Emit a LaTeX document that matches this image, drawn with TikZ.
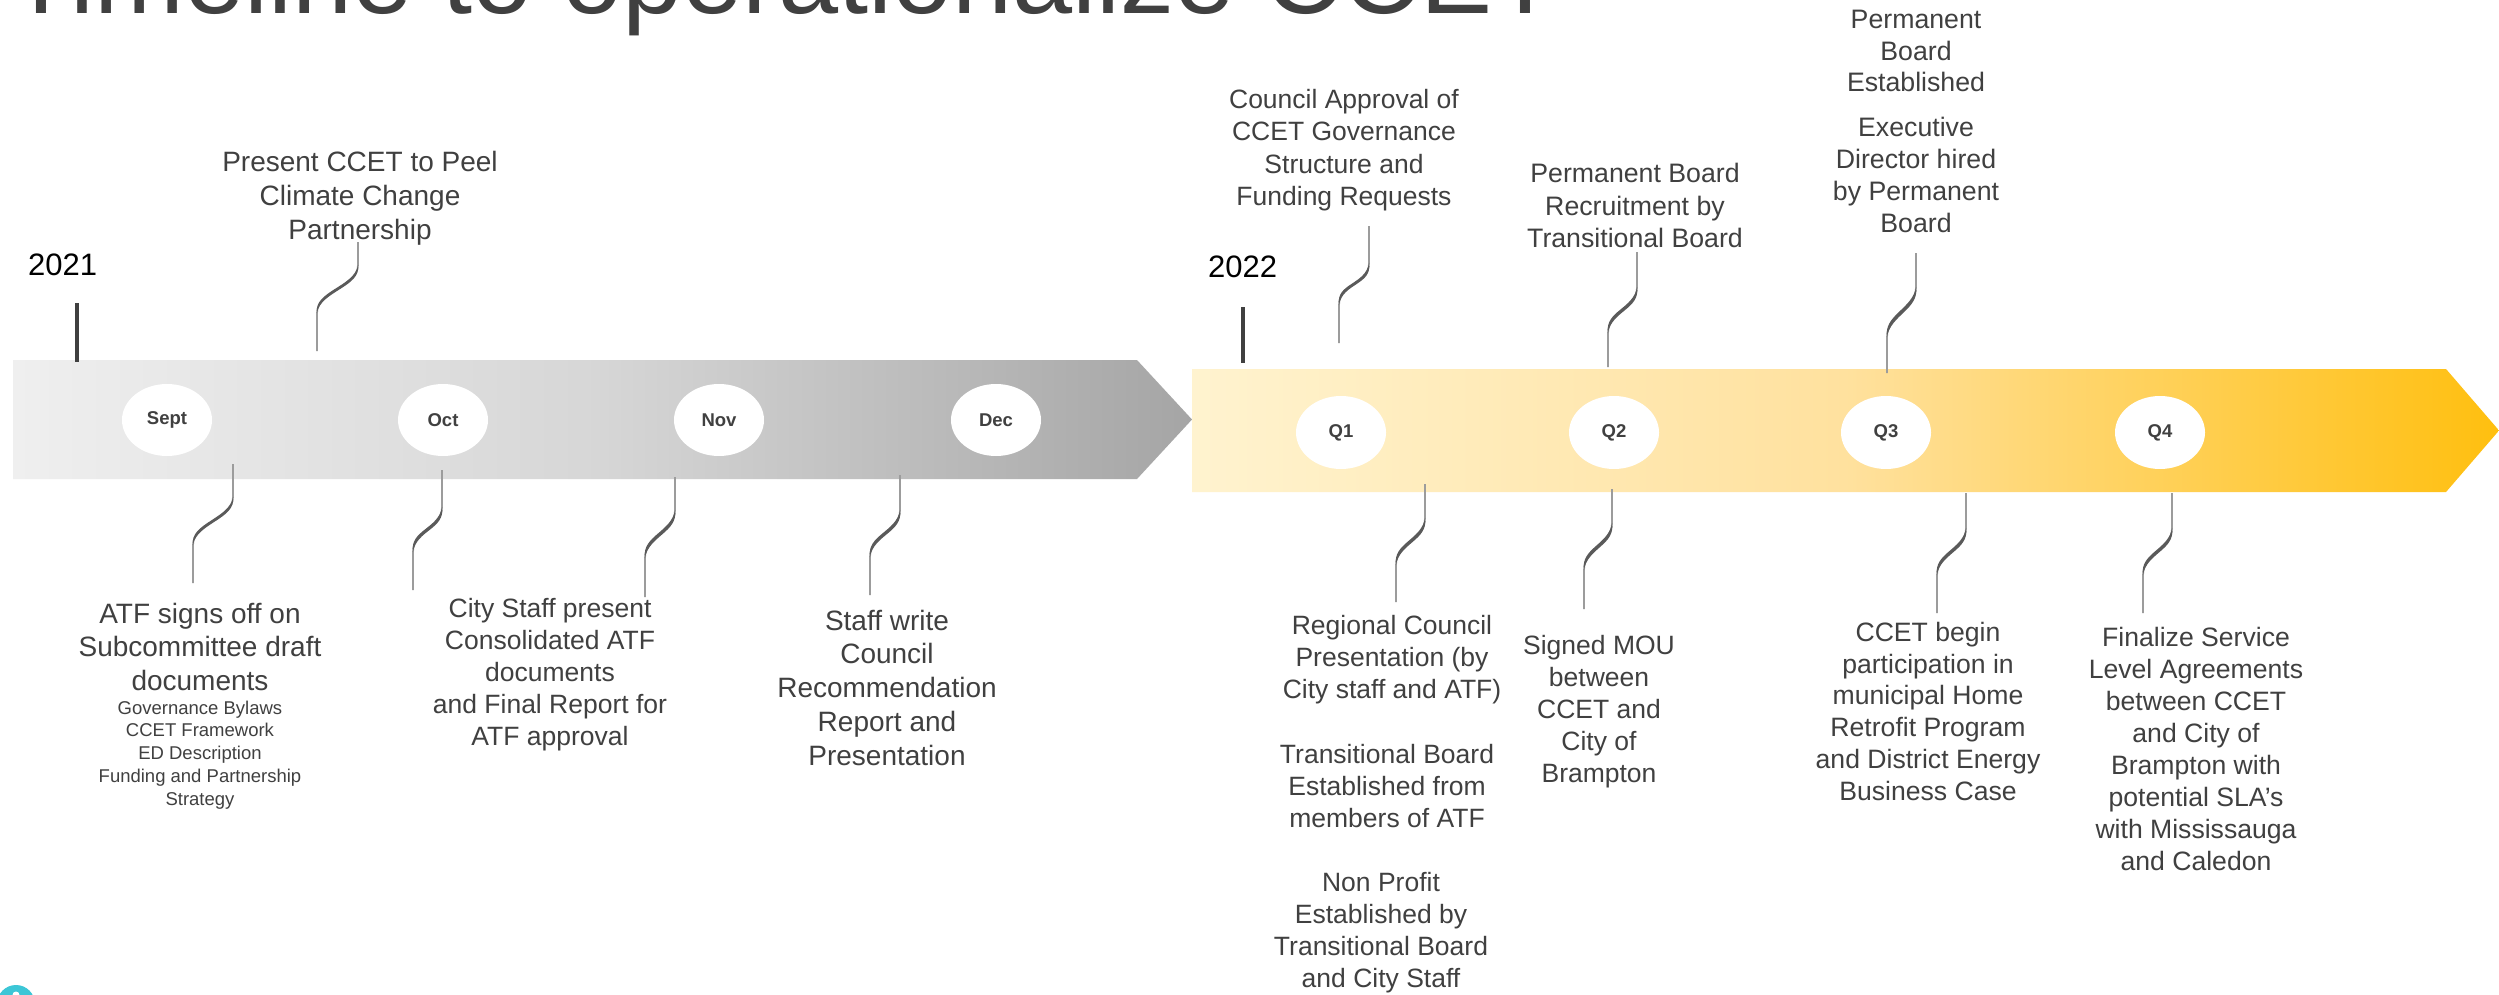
\documentclass[tikz,border=0pt]{standalone}
\usepackage{fontspec}
\setmainfont{Liberation Sans}
\usetikzlibrary{shapes.geometric}
\definecolor{txt}{HTML}{404040}
\definecolor{gA}{HTML}{EFEFEF}
\definecolor{gB}{HTML}{D6D6D6}
\definecolor{gC}{HTML}{A5A5A5}
\definecolor{yA}{HTML}{FFF3CF}
\definecolor{yB}{HTML}{FFE19E}
\definecolor{yC}{HTML}{FFBF0F}
\definecolor{cthin}{HTML}{9C9C9C}
\definecolor{cthick}{HTML}{5A5A5A}
\definecolor{cyanc}{HTML}{3CC6D6}
\newcommand\myfs[2]{\fontsize{#1}{#2}\selectfont}
\newcommand\myconn[7]{%
  \coordinate (#1u) at (#2,#3);
  \coordinate (#1s) at (#2,#4);
  \coordinate (#1e) at (#5,#6);
  \coordinate (#1l) at (#5,#7);
  \draw[connthin] (#1u) -- (#1s) .. controls +(0,22) and +(0,-22) .. (#1e) -- (#1l);
  \fill[connthick] (#1s) .. controls +(-3.5,22) and +(-3.5,-22) .. (#1e) .. controls +(3.5,-22) and +(3.5,22) .. (#1s);
}
\begin{document}
\begin{tikzpicture}[x=1pt,y=-1pt,
  txtnode/.style={align=center, inner sep=0pt, text=txt, anchor=base},
  month/.style={ellipse, fill=white, minimum width=90pt, minimum height=72pt, inner sep=0pt, text=txt, font=\bfseries\myfs{18.5}{20}},
  year/.style={anchor=base west, inner sep=0pt, text=black, font=\myfs{31}{34}},
  tick/.style={line width=4.5pt, draw=txt},
  connthin/.style={draw=cthin, line width=1.7pt},
  connthick/.style={fill=cthick}]
\clip (0,0) rectangle (2499,995);
\fill[white] (0,0) rectangle (2499,995);

% title
\node[anchor=base west, inner sep=0pt, text=txt, font=\myfs{108}{115}] (title) at (8,14) {Timeline to operationalize CCET};

% bars
\shade[left color=gA, right color=gC, middle color=gB] (13,360) -- (1137,360) -- (1192,419.5) -- (1137,479) -- (13,479) -- cycle;
\shade[left color=yA, right color=yC, middle color=yB] (1192,369) -- (2446,369) -- (2499,430.5) -- (2446,492) -- (1192,492) -- cycle;

% year labels and ticks
\node[year] (y21) at (28,275) {2021};
\coordinate (y21a) at (77,303);
\coordinate (y21b) at (77,362);
\draw[tick] (y21a) -- (y21b);
\node[year] (y22) at (1208,277) {2022};
\coordinate (y22a) at (1243,307);
\coordinate (y22b) at (1243,363);
\draw[tick] (y22a) -- (y22b);

% months / quarters
\node[month] (sept) at (167,420) {Sept};
\node[month] (oct) at (443,420) {Oct};
\node[month] (nov) at (719,420) {Nov};
\node[month] (dec) at (996,420) {Dec};
\node[month, minimum height=73pt] (q1) at (1341,432.5) {Q1};
\node[month, minimum height=73pt] (q2) at (1614,432.5) {Q2};
\node[month, minimum height=73pt] (q3) at (1886,432.5) {Q3};
\node[month, minimum height=73pt] (q4) at (2160,432.5) {Q4};

% texts (anchored at the baseline of their last line)
\node[txtnode, font=\myfs{28}{34}] (t1) at (360,240) {Present CCET to Peel\\Climate Change\\Partnership};
\node[txtnode, font=\myfs{28}{33.5}] (t2a) at (200,690) {ATF signs off on\\Subcommittee draft\\documents};
\node[txtnode, font=\myfs{18.5}{22.7}] (t2b) at (200,805) {Governance Bylaws\\CCET Framework\\ED Description\\Funding and Partnership\\Strategy};
\node[txtnode, font=\myfs{26.5}{32}] (t3) at (550,745) {City Staff present\\Consolidated ATF\\documents\\and Final Report for\\ATF approval};
\node[txtnode, font=\myfs{28}{33.7}] (t4) at (887,765) {Staff write\\Council\\Recommendation\\Report and\\Presentation};
\node[txtnode, font=\myfs{26.5}{32.5}] (t5) at (1344,206) {Council Approval of\\CCET Governance\\Structure and\\Funding Requests};
\node[txtnode, font=\myfs{26.7}{32}] (t6) at (1635,247) {Permanent Board\\Recruitment by\\Transitional Board};
\node[txtnode, font=\myfs{26.7}{31.7}] (t7) at (1916,92) {Permanent\\Board\\Established};
\node[txtnode, font=\myfs{26.7}{31.7}] (t8) at (1916,232) {Executive\\Director hired\\by Permanent\\Board};
\node[txtnode, font=\myfs{26.5}{32}] (t9a) at (1392,698) {Regional Council\\Presentation (by\\City staff and ATF)};
\node[txtnode, font=\myfs{26.5}{32}] (t9b) at (1387,827) {Transitional Board\\Established from\\members of ATF};
\node[txtnode, font=\myfs{26.5}{32}] (t9c) at (1381,987) {Non Profit\\Established by\\Transitional Board\\and City Staff};
\node[txtnode, font=\myfs{26.5}{32}] (t10) at (1599,782) {Signed MOU\\between\\CCET and\\City of\\Brampton};
\node[txtnode, font=\myfs{26.6}{31.7}] (t11) at (1928,800) {CCET begin\\participation in\\municipal Home\\Retrofit Program\\and District Energy\\Business Case};
\node[txtnode, font=\myfs{26.6}{31.9}] (t12) at (2196,870) {Finalize Service\\Level Agreements\\between CCET\\and City of\\Brampton with\\potential SLA’s\\with Mississauga\\and Caledon};

% connectors
\myconn{ca}{358}{242}{265}{317}{313}{351}
\myconn{cb}{233}{464}{497}{193}{545}{583}
\myconn{cc}{442}{470}{507}{413}{552}{590}
\myconn{cd}{675}{477}{510}{645}{558}{597}
\myconn{ce}{900}{475}{510}{870}{557}{595}
\myconn{cf}{1369}{226}{263}{1339}{305}{343}
\myconn{cg}{1637}{252}{287}{1608}{333}{367}
\myconn{ch}{1916}{253}{287}{1887}{337}{373}
\myconn{ci}{1425}{484}{518}{1396}{565}{602}
\myconn{cj}{1612}{489}{523}{1584}{570}{609}
\myconn{ck}{1966}{493}{528}{1937}{575}{613}
\myconn{cl}{2172}{493}{528}{2143}{575}{613}

% corner icon
\fill[cyanc] (16,1004) circle (19);
\fill[white] (16,995) circle (3.5);
\end{tikzpicture}
\end{document}
